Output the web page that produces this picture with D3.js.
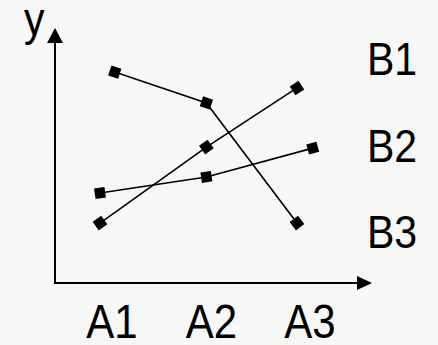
<!DOCTYPE html>
<html>
<head>
<meta charset="utf-8">
<script src="https://cdn.jsdelivr.net/npm/d3@7"></script>
<style>
  html, body { margin: 0; padding: 0; background: #f7f7f6; }
  svg { display: block; }
  text { font-family: "Liberation Sans", Arial, sans-serif; fill: #000; }
</style>
</head>
<body>
<script>
// categories and their label positions (in x units)
const categories = ["A1", "A2", "A3"];
const categoryPos = [1.12, 2.13, 3.13];

// series (x in category units, y in value units)
const seriesNames = ["B1", "B2", "B3"];
const seriesLabelY = [8.16, 4.75, 1.37];
const b1X = [1.15, 2.08, 3.0];
const b1Y = [8.27, 7.06, 2.35];
const b2X = [1.0, 2.08, 3.0];
const b2Y = [2.35, 5.33, 7.65];
const b3X = [1.0, 2.08, 3.16];
const b3Y = [3.53, 4.16, 5.29];

const width = 438, height = 345;
const svg = d3.select("body").append("svg")
  .attr("width", width)
  .attr("height", height);

// Scales
const xScale = d3.scaleLinear().domain([1, 3]).range([100, 297]);
const yScale = d3.scaleLinear().domain([0, 10]).range([283, 28]);
const x0 = 55, y0 = yScale(0);

// Axes with arrows
const axisG = svg.append("g");
axisG.append("line")
  .attr("x1", x0).attr("y1", y0)
  .attr("x2", x0).attr("y2", yScale(10) + 14)
  .attr("stroke", "#000").attr("stroke-width", 2);
axisG.append("path")
  .attr("d", `M${x0},${yScale(10)} L${x0 - 8},${yScale(10) + 15} L${x0 + 8},${yScale(10) + 15} Z`)
  .attr("fill", "#000");
const xEnd = 372;
axisG.append("line")
  .attr("x1", x0 - 1).attr("y1", y0)
  .attr("x2", xEnd - 14).attr("y2", y0)
  .attr("stroke", "#000").attr("stroke-width", 2);
axisG.append("path")
  .attr("d", `M${xEnd},${y0} L${xEnd - 15},${y0 - 7} L${xEnd - 15},${y0 + 7} Z`)
  .attr("fill", "#000");

// y label
svg.append("text")
  .attr("transform", `translate(24,35) scale(1,1.13)`)
  .attr("font-size", 41)
  .text("y");

// Category labels
svg.selectAll("text.cat")
  .data(categories)
  .enter().append("text")
  .attr("class", "cat")
  .attr("text-anchor", "middle")
  .attr("font-size", 42)
  .attr("transform", (d, i) => `translate(${xScale(categoryPos[i])},338) scale(1,1.13)`)
  .text(d => d);

// Series labels
svg.selectAll("text.ser")
  .data(seriesNames)
  .enter().append("text")
  .attr("class", "ser")
  .attr("font-size", 41)
  .attr("transform", (d, i) => `translate(367,${yScale(seriesLabelY[i])}) scale(1,1.13)`)
  .text(d => d);

// Lines and markers
const allSeries = [
  b1X.map((x, i) => ({ x: x, y: b1Y[i] })),
  b2X.map((x, i) => ({ x: x, y: b2Y[i] })),
  b3X.map((x, i) => ({ x: x, y: b3Y[i] }))
];

const line = d3.line().x(d => xScale(d.x)).y(d => yScale(d.y));

allSeries.forEach(pts => {
  svg.append("path")
    .datum(pts)
    .attr("d", line)
    .attr("fill", "none")
    .attr("stroke", "#000")
    .attr("stroke-width", 1.6);

  svg.selectAll(null)
    .data(pts)
    .enter().append("path")
    .attr("d", d3.symbol().type(d3.symbolSquare).size(110))
    .attr("fill", "#000")
    .attr("transform", (d, i) => {
      const a = pts[Math.max(i - 1, 0)], b = pts[Math.max(i, 1)];
      const ang = Math.atan2(yScale(b.y) - yScale(a.y), xScale(b.x) - xScale(a.x)) * 180 / Math.PI;
      return `translate(${xScale(d.x)},${yScale(d.y)}) rotate(${ang})`;
    });
});
</script>
</body>
</html>
